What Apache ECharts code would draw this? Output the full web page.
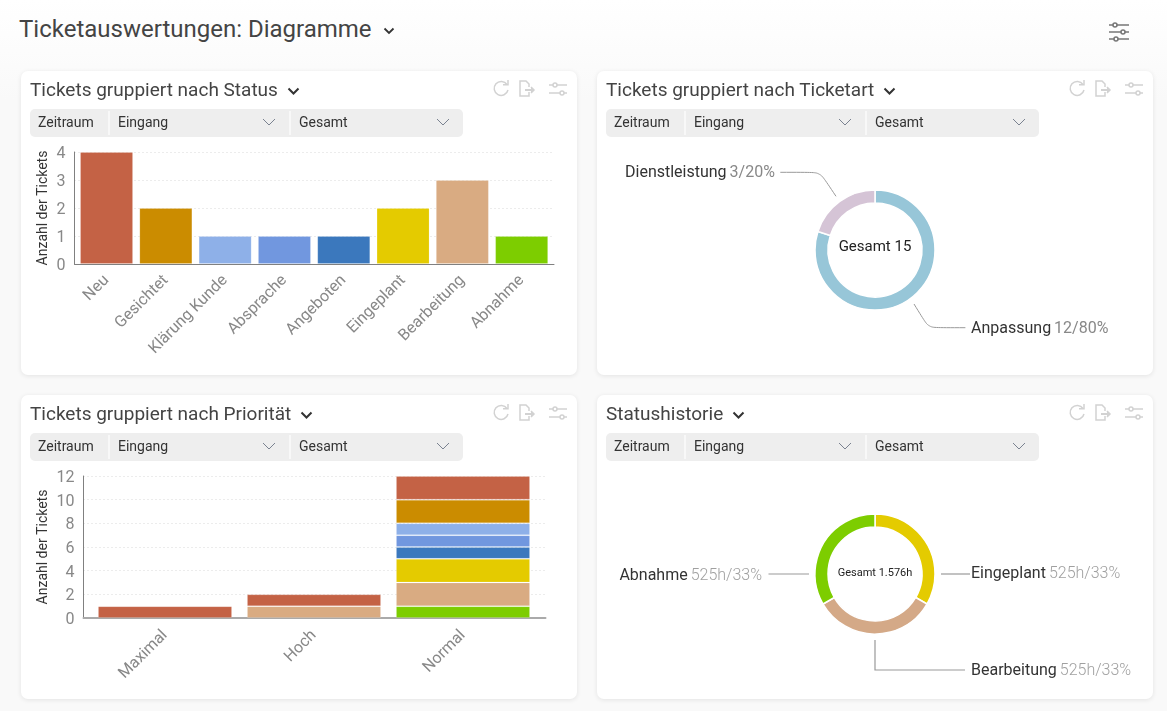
<!DOCTYPE html>
<html lang="de">
<head>
<meta charset="utf-8">
<title>Ticketauswertungen: Diagramme</title>
<script src="https://cdn.jsdelivr.net/npm/echarts@6/dist/echarts.min.js"></script>
<style>
    * { box-sizing: border-box; }
    html, body { margin: 0; height: 100%; overflow: hidden; }
    body {
        width: 1167px; height: 711px; position: relative;
        font-family: Roboto, sans-serif;
        background: linear-gradient(#ffffff 0, #f9f9f9 100px);
    }
    .page-title { position: absolute; left: 19px; top: 14px; font-size: 24px; line-height: 30px; color: #444; white-space: nowrap; }
    .page-title svg { margin-left: 11px; vertical-align: 2px; }
    .page-icon { position: absolute; left: 1108px; top: 21px; }
    .card {
        position: absolute; width: 556px; height: 304px; background: #fff;
        border-radius: 7px; box-shadow: 0 1px 5px rgba(0,0,0,0.09);
    }
    .chart { position: absolute; left: 0; top: 0; width: 556px; height: 304px; }
    .card-title { position: absolute; left: 9px; top: 6px; font-size: 19px; line-height: 26px; color: #444; white-space: nowrap; }
    .card-title svg { margin-left: 9px; vertical-align: 0; }
    .tools { position: absolute; left: 471px; top: 8px; }
    .filter { position: absolute; left: 9px; top: 38px; width: 433px; height: 28px; background: #eee; border-radius: 5px; font-size: 14px; line-height: 27px; color: #333; }
    .filter span { position: absolute; top: 0; }
    .filter i { position: absolute; top: 2px; width: 2px; height: 24px; background: #f8f8f8; }
    .filter svg { position: absolute; top: 9px; }
</style>
</head>
<body>
<div class="page-title">Ticketauswertungen: Diagramme<svg width="12" height="8" viewBox="0 0 12 8"><path d="M1.5 1.5 6 6l4.5-4.5" fill="none" stroke="#333" stroke-width="1.8"/></svg></div>
<svg class="page-icon" width="22" height="22" viewBox="0 0 22 22" fill="none" stroke="#777" stroke-width="1.6">
    <path d="M1 4h4m4 0h12M1 11h12m4 0h4M1 18h5m4 0h11"/>
    <circle cx="7" cy="4" r="2"/><circle cx="15" cy="11" r="2"/><circle cx="8" cy="18" r="2"/>
</svg>
<div id="cards"></div>

<script>
// --- Daten: Diagramm "Status" ---
const statusNames = ['Neu', 'Gesichtet', 'Klärung Kunde', 'Absprache', 'Angeboten', 'Eingeplant', 'Bearbeitung', 'Abnahme'];
const statusCounts = [4, 2, 1, 1, 1, 2, 3, 1];
const statusColors = ['#c46245', '#cb8c00', '#8eb0e8', '#7197df', '#3b78bd', '#e4cb00', '#d9ab82', '#7dcd00'];

// --- Daten: Diagramm "Ticketart" ---
const ticketartNames = ['Anpassung', 'Dienstleistung'];
const ticketartCounts = [12, 3];
const ticketartColors = ['#97c6d8', '#d5c4d6'];
const ticketartTotal = 'Gesamt 15';

// --- Daten: Diagramm "Priorität" (Reihenfolge der Stapel: von unten nach oben) ---
const priorityNames = ['Maximal', 'Hoch', 'Normal'];
const prioAbnahme = [null, null, 1];
const prioBearbeitung = [null, 1, 2];
const prioEingeplant = [null, null, 2];
const prioAngeboten = [null, null, 1];
const prioAbsprache = [null, null, 1];
const prioKlaerung = [null, null, 1];
const prioGesichtet = [null, null, 2];
const prioNeu = [1, 1, 2];

// --- Daten: Diagramm "Statushistorie" ---
const historyNames = ['Eingeplant', 'Bearbeitung', 'Abnahme'];
const historyHours = [525, 525, 525];
const historyColors = ['#e4cb00', '#d4a987', '#7dcd00'];
const historyTotal = 'Gesamt 1.576h';

// --- Kartenrahmen ---
const cardTitles = ['Tickets gruppiert nach Status', 'Tickets gruppiert nach Ticketart', 'Tickets gruppiert nach Priorität', 'Statushistorie'];
const cardLefts = [21, 597, 21, 597];
const cardTops = [71, 71, 395, 395];
const filterTexts = ['Zeitraum', 'Eingang', 'Gesamt'];

const GREY_TEXT = '#888';
const chevron = '<svg width="13" height="9" viewBox="0 0 13 9"><path d="M1.5 1.5 6.5 6.5l5-5" fill="none" stroke="#333" stroke-width="2"/></svg>';
const thinChevron = left => `<svg style="left:${left}px" width="14" height="9" viewBox="0 0 14 9"><path d="M1 1l6 6 6-6" fill="none" stroke="#7a8290" stroke-width="1"/></svg>`;
const toolIcons = `<svg class="tools" width="80" height="20" viewBox="0 0 80 20" fill="none" stroke="#d2d2d2" stroke-width="1.5">
    <path d="M15 5.5A7 7 0 1 0 16 11"/><path d="M11 5.8h5V1" />
    <path d="M37 13v4h-9V2h6l3 3v3"/><path d="M33 11h7" stroke-width="2"/><path d="M39 8l3 3-3 3" fill="#d2d2d2"/>
    <path d="M57 6h4m4 0h10M57 14h11m4 0h3"/><circle cx="63" cy="6" r="2"/><circle cx="70" cy="14" r="2"/>
</svg>`;

// Kartenrahmen aufbauen
const cards = document.getElementById('cards');
cardTitles.forEach((title, i) => {
    const card = document.createElement('div');
    card.className = 'card';
    card.style.left = cardLefts[i] + 'px';
    card.style.top = cardTops[i] + 'px';
    card.innerHTML = `
        <div class="chart" id="chart-${i}"></div>
        <div class="card-title">${title}${chevron}</div>
        ${toolIcons}
        <div class="filter">
            <span style="left:8px">${filterTexts[0]}</span><i style="left:78px"></i>
            <span style="left:88px">${filterTexts[1]}</span>${thinChevron(232)}<i style="left:259px"></i>
            <span style="left:269px">${filterTexts[2]}</span>${thinChevron(406)}
        </div>`;
    cards.appendChild(card);
});

// --- Balkendiagramme ---
// Zwei Grids: das äußere trägt y-Achse und Grundlinie, das innere die Balken,
// weil die Grundlinie links und rechts etwas über die Balkenzone hinausragt.
function barBase(names, yMax, yStep, outer, inner, nameGap, lineWidth, lineColor, labelMargin) {
    return {
        animation: false,
        textStyle: { fontFamily: 'Roboto' },
        grid: [inner, outer],
        xAxis: [{
            type: 'category',
            gridIndex: 0,
            data: names,
            axisLine: { show: false },
            axisTick: { alignWithLabel: true, length: 5, lineStyle: { color: '#999' } },
            axisLabel: { rotate: 45, interval: 0, margin: labelMargin, fontSize: 16, color: GREY_TEXT }
        }, {
            type: 'category',
            gridIndex: 1,
            data: names,
            axisLine: { lineStyle: { color: lineColor, width: lineWidth } },
            axisTick: { show: false },
            axisLabel: { show: false }
        }],
        yAxis: [{
            type: 'value',
            gridIndex: 0,
            min: 0,
            max: yMax,
            interval: yStep,
            show: false
        }, {
            type: 'value',
            gridIndex: 1,
            min: 0,
            max: yMax,
            interval: yStep,
            name: 'Anzahl der Tickets',
            nameLocation: 'middle',
            nameGap: nameGap,
            nameMoveOverlap: false,
            nameTextStyle: { fontSize: 14, color: '#333' },
            axisLine: { show: true, lineStyle: { color: '#808080' } },
            axisTick: { show: false },
            // Ziffern sitzen im Original knapp unter der Rasterlinie
            axisLabel: { margin: 9, fontSize: 16, color: GREY_TEXT, verticalAlign: 'top', lineHeight: 4 },
            splitLine: { lineStyle: { color: '#d8d8d8', type: [1, 3] } }
        }]
    };
}

const barEdge = { borderColor: 'rgba(255,255,255,0.15)', borderWidth: 1 };

const statusChart = echarts.init(document.getElementById('chart-0'));
statusChart.setOption(Object.assign(barBase(statusNames, 4, 1,
    { left: 53.5, top: 81, width: 479.5, height: 112 },
    { left: 55.9, top: 81, width: 474.4, height: 112 }, 24.5, 1, '#808080', 14), {
    series: [{
        type: 'bar',
        xAxisIndex: 0,
        yAxisIndex: 0,
        barCategoryGap: '10.6%',
        itemStyle: barEdge,
        data: statusCounts.map((v, i) => ({ value: v, itemStyle: { color: statusColors[i] } }))
    }]
}));

const priorityStacks = [prioNeu, prioGesichtet, prioKlaerung, prioAbsprache, prioAngeboten, prioEingeplant, prioBearbeitung, prioAbnahme];
const priorityChart = echarts.init(document.getElementById('chart-2'));
priorityChart.setOption(Object.assign(barBase(priorityNames, 12, 2,
    { left: 62.5, top: 81, width: 462, height: 142 },
    { left: 69.5, top: 81, width: 447, height: 142 }, 33, 2, '#aaa', 15), {
    // unten liegt Abnahme, oben Neu
    series: priorityStacks.map((values, i) => ({
        name: statusNames[i],
        type: 'bar',
        xAxisIndex: 0,
        yAxisIndex: 0,
        stack: 'prio',
        barCategoryGap: '10%',
        data: values,
        itemStyle: Object.assign({ color: statusColors[i] }, barEdge)
    })).reverse()
}));

// --- Ringdiagramme ---
function ringOption(names, values, colors, total, totalY, totalSize, formatValue, labelSpots, linePoints, lineWidth, valueColor, valueWeight, smooth) {
    return {
        animation: false,
        textStyle: { fontFamily: 'Roboto' },
        graphic: [{
            type: 'text', left: 'center', top: totalY,
            style: { text: total, fontSize: totalSize, fontFamily: 'Roboto', fill: '#222' }
        }],
        series: [{
            type: 'pie',
            center: [278, 179],
            radius: [47, 60],
            startAngle: 90,
            clockwise: true,
            avoidLabelOverlap: false,
            silent: true,
            itemStyle: { borderColor: '#fff', borderWidth: 1.5 },
            label: {
                show: true,
                formatter: p => `{n|${p.name}} {v|${formatValue(p)}}`,
                rich: {
                    n: { fontSize: 16, fontFamily: 'Roboto', color: '#333' },
                    v: { fontSize: 16, fontFamily: 'Roboto', color: valueColor, fontWeight: valueWeight }
                }
            },
            labelLine: { show: true, smooth: smooth, lineStyle: { color: '#999', width: lineWidth } },
            labelLayout: p => ({
                x: labelSpots[p.dataIndex][0],
                y: labelSpots[p.dataIndex][1],
                align: 'left',
                verticalAlign: 'middle',
                labelLinePoints: linePoints[p.dataIndex]
            }),
            data: names.map((n, i) => ({ name: n, value: values[i], itemStyle: { color: colors[i] } }))
        }]
    };
}

// Position der Beschriftungen und Führungslinien, bezogen auf die Karte
const ticketartSpots = [[374, 257.5], [28, 102]];
const ticketartLines = [
    [[317, 233], [331.6, 256.7], [368.4, 256.7]],
    [[239, 125.3], [223, 101.3], [183.3, 101.3]]
];
const historySpots = [[374, 179], [374, 276], [22.4, 180.5]];
const historyLines = [
    [[344, 179], [358, 179], [373, 179]],
    [[278, 245], [278, 275], [368, 275]],
    [[212, 179], [192, 179], [171.5, 179]]
];

const ticketartChart = echarts.init(document.getElementById('chart-1'));
ticketartChart.setOption(ringOption(ticketartNames, ticketartCounts, ticketartColors, ticketartTotal, 168.5, 15,
    p => `${p.value}/${Math.round(p.percent)}%`, ticketartSpots, ticketartLines, 1, GREY_TEXT, 'normal', 0.15));

const historyChart = echarts.init(document.getElementById('chart-3'));
historyChart.setOption(ringOption(historyNames, historyHours, historyColors, historyTotal, 172.5, 11,
    p => `${p.value}h/${Math.round(p.percent)}%`, historySpots, historyLines, 1.2, '#a0a0a0', 300, 0));
</script>
</body>
</html>
